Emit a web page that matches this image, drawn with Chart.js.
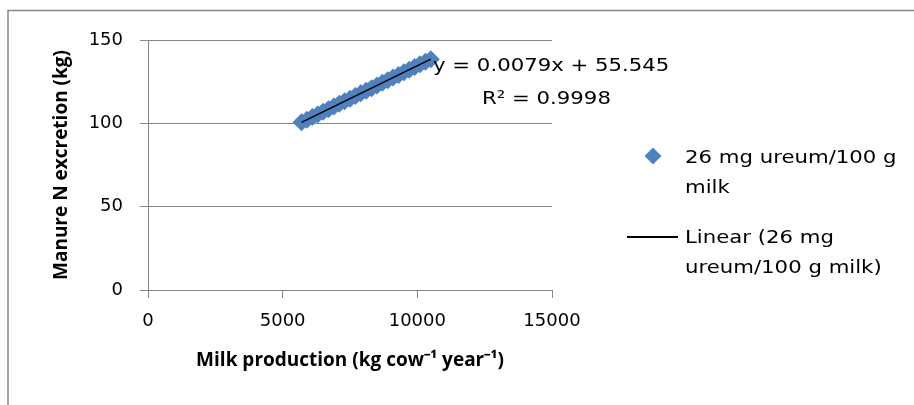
<!DOCTYPE html>
<html>
<head>
<meta charset="utf-8">
<script src="https://cdn.jsdelivr.net/npm/chart.js@4.4.1/dist/chart.umd.min.js"></script>
<style>
    body { margin: 0; background: #fff; overflow: hidden; }
    #wrap { position: relative; width: 914px; height: 405px; }
    .txt {
        position: absolute;
        font-family: "DejaVu Sans", sans-serif;
        font-size: 18px;
        line-height: 30px;
        color: #000;
        white-space: nowrap;
        transform: scaleX(1.18);
        transform-origin: left center;
    }
    #legend-marker {
        position: absolute;
        left: 647px; top: 150px;
        width: 12px; height: 12px;
        background: #4F81BD;
        transform: rotate(45deg);
    }
    #legend-line {
        position: absolute;
        left: 627px; top: 236px;
        width: 51px; height: 1.5px;
        background: #000;
    }
</style>
</head>
<body>
<div id="wrap">
    <canvas id="graph" width="914" height="405"></canvas>
    <div class="txt" style="left:433px; top:50px;">y = 0.0079x + 55.545</div>
    <div class="txt" style="left:482px; top:83px;">R² = 0.9998</div>
    <div id="legend-marker"></div>
    <div class="txt" style="left:685px; top:142px;">26 mg ureum/100 g<br>milk</div>
    <div id="legend-line"></div>
    <div class="txt" style="left:685px; top:222px;">Linear (26 mg<br>ureum/100 g milk)</div>
</div>
<script>
// milk production (kg cow-1 year-1) and manure N excretion (kg)
const milkX = [5700, 5900, 6100, 6300, 6500, 6700, 6900, 7100, 7300, 7500, 7700, 7900, 8100,
    8300, 8500, 8700, 8900, 9100, 9300, 9500, 9700, 9900, 10100, 10300, 10500];
const manureN = [100.6, 102.2, 103.8, 105.3, 106.9, 108.5, 110.1, 111.7, 113.2, 114.8, 116.4, 118.0, 119.6,
    121.1, 122.7, 124.3, 125.9, 127.5, 129.0, 130.6, 132.2, 133.8, 135.4, 136.9, 138.5];

// linear trendline ends
const trendX = [5700, 10500];
const trendY = [100.6, 138.5];

const xTicks = [0, 5000, 10000, 15000];
const yTicks = [0, 50, 100, 150];

const axisGray = '#868686';
const tickFont = { family: 'DejaVu Sans', size: 18 };
const titleFont = { family: 'Open Sans', size: 19, weight: 'bold' };

const toPoints = (xs, ys) => xs.map((x, i) => ({ x: x, y: ys[i] }));

// grey frame round the chart (only left and top show in the picture)
const framePlugin = {
    id: 'frame',
    beforeDraw: (chart) => {
        const ctx = chart.ctx;
        ctx.save();
        ctx.strokeStyle = axisGray;
        ctx.lineWidth = 1.5;
        ctx.beginPath();
        ctx.moveTo(8, 405);
        ctx.lineTo(8, 10.5);
        ctx.lineTo(914, 10.5);
        ctx.stroke();
        ctx.restore();
    }
};

new Chart(document.getElementById('graph'), {
    type: 'scatter',
    data: {
        datasets: [{
            label: '26 mg ureum/100 g milk',
            data: toPoints(milkX, manureN),
            pointStyle: 'rectRot',
            pointRadius: 9,
            pointHoverRadius: 9,
            backgroundColor: '#4F81BD',
            borderColor: '#4F81BD',
            borderWidth: 0,
            showLine: false,
            order: 2
        }, {
            label: 'Linear (26 mg ureum/100 g milk)',
            data: toPoints(trendX, trendY),
            showLine: true,
            pointRadius: 0,
            borderColor: '#000',
            borderWidth: 1.5,
            order: 1
        }]
    },
    options: {
        responsive: false,
        animation: false,
        events: [],
        layout: { padding: { left: 0, top: 40, right: 362, bottom: 0 } },
        plugins: {
            legend: { display: false },
            tooltip: { enabled: false }
        },
        scales: {
            x: {
                type: 'linear',
                min: 0,
                max: 15000,
                afterBuildTicks: (scale) => { scale.ticks = xTicks.map(v => ({ value: v })); },
                afterFit: (scale) => { scale.height = 115; },
                ticks: { font: tickFont, color: '#000', padding: 13, maxRotation: 0, callback: (v) => String(v) },
                grid: { drawOnChartArea: false, drawTicks: true, tickLength: 8, color: axisGray },
                border: { color: axisGray },
                title: {
                    display: true,
                    text: 'Milk production (kg cow⁻¹ year⁻¹)',
                    font: titleFont,
                    color: '#000',
                    padding: { top: 4, bottom: 33 }
                }
            },
            y: {
                min: 0,
                max: 150,
                afterBuildTicks: (scale) => { scale.ticks = yTicks.map(v => ({ value: v })); },
                afterFit: (scale) => { scale.width = 148; },
                ticks: { font: tickFont, color: '#000', padding: 17, callback: (v) => String(v) },
                grid: { tickLength: 8, color: axisGray },
                border: { color: axisGray },
                title: {
                    display: true,
                    text: 'Manure N excretion (kg)',
                    font: titleFont,
                    color: '#000',
                    padding: { top: 50, bottom: 4 }
                }
            }
        }
    },
    plugins: [framePlugin]
});
</script>
</body>
</html>
